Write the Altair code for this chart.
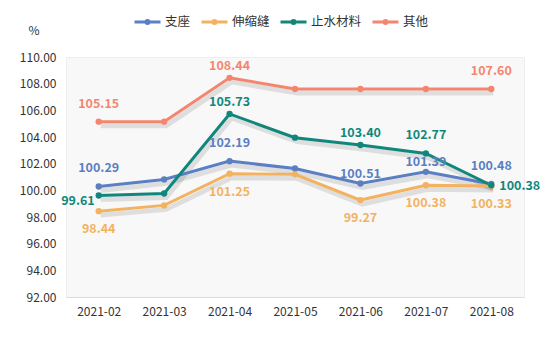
import altair as alt
import pandas as pd

months = ["2021-02", "2021-03", "2021-04", "2021-05", "2021-06", "2021-07", "2021-08"]
series = ["支座", "伸缩缝", "止水材料", "其他"]
colors = ["#5a7fc3", "#f3b25f", "#11877b", "#f4866f"]

zhizuo = [100.29, 100.82, 102.19, 101.64, 100.51, 101.39, 100.48]
shensuofeng = [98.44, 98.87, 101.25, 101.20, 99.27, 100.38, 100.33]
zhishui = [99.61, 99.76, 105.73, 103.95, 103.40, 102.77, 100.38]
qita = [105.15, 105.15, 108.44, 107.60, 107.60, 107.60, 107.60]

y_ticks = [92, 94, 96, 98, 100, 102, 104, 106, 108, 110]

# which points carry a value label, grouped by label placement
labels_above = [("支座", "2021-02"), ("支座", "2021-04"), ("支座", "2021-08"),
                ("其他", "2021-02"), ("其他", "2021-08"), ("止水材料", "2021-07")]
labels_above_near = [("其他", "2021-04"), ("止水材料", "2021-04"), ("止水材料", "2021-06")]
labels_above_close = [("支座", "2021-06"), ("支座", "2021-07")]
labels_below = [("伸缩缝", m) for m in ["2021-02", "2021-04", "2021-06", "2021-07", "2021-08"]]
labels_left = [("止水材料", "2021-02")]
labels_right = [("止水材料", "2021-08")]

rows = []
for s, vals in zip(series, [zhizuo, shensuofeng, zhishui, qita]):
    for m, v in zip(months, vals):
        key = (s, m)
        if key in labels_above:
            place = "above"
        elif key in labels_above_near:
            place = "above_near"
        elif key in labels_above_close:
            place = "above_close"
        elif key in labels_below:
            place = "below"
        elif key in labels_left:
            place = "left"
        elif key in labels_right:
            place = "right"
        else:
            place = "none"
        rows.append({"series": s, "month": m, "value": v, "place": place})
df = pd.DataFrame(rows)

FONT = "Noto Sans CJK SC"

legend_symbol = "M-1,0L1,0M0.12,0A0.12,0.12,0,1,1,-0.12,0A0.12,0.12,0,1,1,0.12,0"

x_enc = alt.X("month:N", sort=months, title=None,
              axis=alt.Axis(labelAngle=0, ticks=False, domainColor="#dddddd",
                            labelPadding=9, labelFontSize=12, labelColor="#333333",
                            labelFont=FONT))
y_enc = alt.Y("value:Q", scale=alt.Scale(domain=[92, 110], nice=False, zero=False),
              axis=alt.Axis(values=y_ticks, format=".2f", grid=False, domain=False,
                            ticks=False, labelPadding=10, labelFontSize=12,
                            labelColor="#333333", labelFont=FONT,
                            title="%", titleAngle=0, titleX=-38, titleY=-27,
                            titleAlign="left", titleBaseline="middle",
                            titleFontWeight="normal", titleFontSize=12,
                            titleColor="#333333", titleFont=FONT))
color_scale = alt.Scale(domain=series, range=colors)
legend = alt.Legend(title=None, orient="none", direction="horizontal",
                    legendX=67, legendY=-50, symbolType=legend_symbol,
                    symbolSize=676, symbolStrokeWidth=3, labelFontSize=12.5,
                    labelFont=FONT, labelColor="#333333", columnPadding=4,
                    labelOffset=3)

base = alt.Chart(df)

shadow = base.mark_line(strokeWidth=5, opacity=0.1, xOffset=2, yOffset=4,
                        color="#000000").encode(
    x=x_enc, y=y_enc, detail="series:N")

lines = base.mark_line(strokeWidth=3).encode(
    x=x_enc, y=y_enc,
    color=alt.Color("series:N", scale=color_scale, sort=series, legend=legend))

points = base.mark_point(filled=True, size=40, opacity=1).encode(
    x=x_enc, y=y_enc,
    color=alt.Color("series:N", scale=color_scale, sort=series, legend=None))


def label_layer(place, **kw):
    return base.transform_filter(alt.datum.place == place).mark_text(
        fontWeight="bold", fontSize=12.5, font=FONT, **kw).encode(
        x=x_enc, y=y_enc,
        text=alt.Text("value:Q", format=".2f"),
        color=alt.Color("series:N", scale=color_scale, sort=series, legend=None))


texts = [
    label_layer("above", dy=-18, baseline="middle"),
    label_layer("above_near", dy=-12, baseline="middle"),
    label_layer("above_close", dy=-10, baseline="middle"),
    label_layer("below", dy=18, baseline="middle"),
    label_layer("left", dx=-4, dy=5, align="right", baseline="middle"),
    label_layer("right", dx=8, dy=1, align="left", baseline="middle"),
]

chart = alt.layer(shadow, lines, points, *texts).properties(
    width=458, height=240,
    autosize=alt.AutoSizeParams(type="none"),
    padding={"left": 66, "top": 57, "right": 22, "bottom": 42},
    background="white",
).configure_view(fill="#f8f8f8", stroke="#eeeeee", strokeWidth=1)

chart.save("out.html", embed_options={"renderer": "svg", "actions": False})
